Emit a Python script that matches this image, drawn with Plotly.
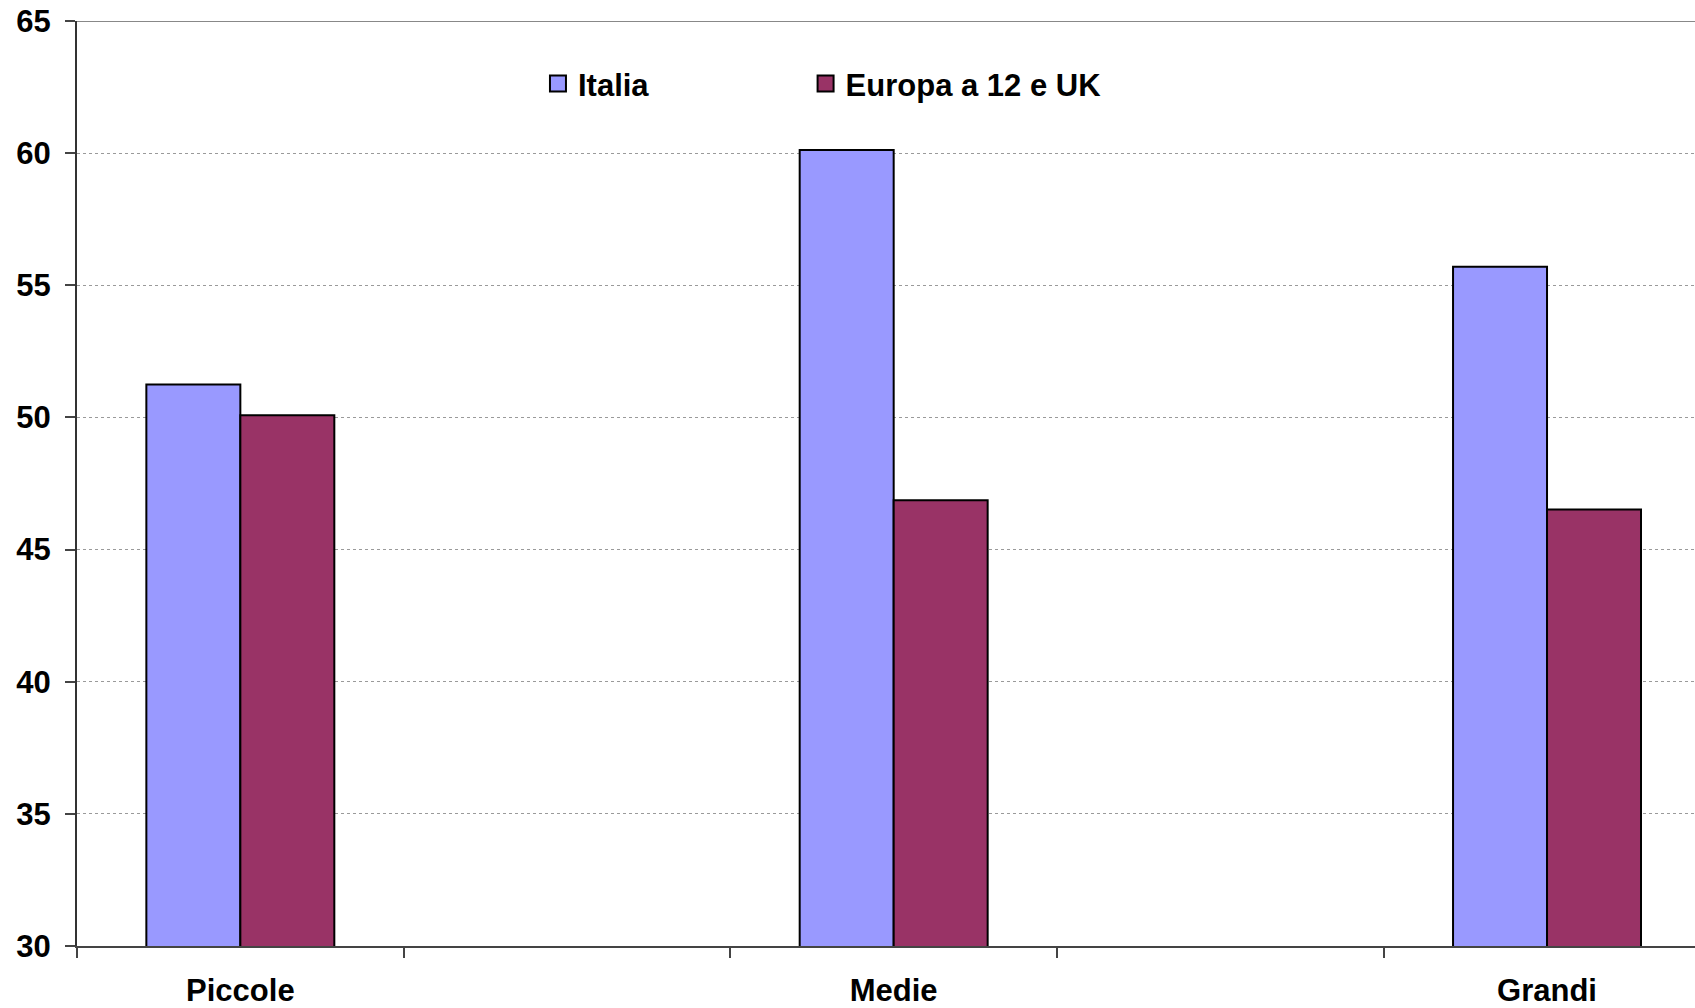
import plotly.graph_objects as go

categories = ["Piccole", "Medie", "Grandi"]
italia = [51.25, 60.12, 55.70]
europa = [50.08, 46.87, 46.52]
series_names = ["Italia", "Europa a 12 e UK"]
series_colors = ["#9999FF", "#993366"]
y_ticks = [30, 35, 40, 45, 50, 55, 60, 65]

FONT = "Liberation Sans, Arial, sans-serif"
xpos = [2 * i for i in range(len(categories))]

fig = go.Figure()
for vals, name, col in zip([italia, europa], series_names, series_colors):
    fig.add_trace(go.Bar(x=xpos, y=vals, name=name, showlegend=False,
                         marker=dict(color=col, line=dict(color="#000000", width=2))))
# legend entries (square symbols), each in its own legend box
for i, (name, col) in enumerate(zip(series_names, series_colors)):
    fig.add_trace(go.Scatter(x=[None], y=[None], mode="markers", name=name,
                             legend="legend" if i == 0 else "legend2",
                             marker=dict(symbol="square", size=18, color=col,
                                         line=dict(color="#000000", width=2))))

legend_common = dict(orientation="h", y=0.932, yanchor="middle", xanchor="left",
                     font=dict(family=FONT, size=31, color="black", weight="bold"),
                     bgcolor="rgba(0,0,0,0)", borderwidth=0)
fig.update_layout(
    width=1695, height=1008,
    margin=dict(l=77, r=0, t=21, b=62, autoexpand=False),
    paper_bgcolor="white", plot_bgcolor="white",
    barmode="group", bargap=0.7123, bargroupgap=0,
    font=dict(family=FONT, size=31, color="black", weight="bold"),
    legend=dict(x=0.2849, **legend_common),
    legend2=dict(x=0.4503, **legend_common),
    showlegend=True,
)
fig.update_yaxes(range=[30, 65], tickvals=y_ticks, ticks="outside", ticklen=10,
                 tickcolor="#444444", tickwidth=2, automargin=False,
                 showline=True, linecolor="#333333", linewidth=2,
                 showgrid=True, gridcolor="#9a9a9a", gridwidth=1, griddash="dot",
                 tickfont=dict(family=FONT, size=31, color="black", weight="bold"),
                 ticklabelstandoff=8, zeroline=False)
fig.update_xaxes(range=[-0.5, 4.453], tickvals=xpos, ticktext=categories, ticks="",
                 showline=True, linecolor="#444444", linewidth=2, automargin=False,
                 showgrid=False, zeroline=False,
                 minor=dict(tick0=-0.5, dtick=1, ticks="outside", ticklen=10,
                            tickcolor="#444444", tickwidth=2, showgrid=False),
                 tickfont=dict(family=FONT, size=31, color="black", weight="bold"),
                 ticklabelstandoff=16)
fig.add_shape(type="line", xref="paper", yref="y", x0=0, x1=1, y0=65, y1=65,
              line=dict(color="#888888", width=2))

fig.write_html("out.html")
